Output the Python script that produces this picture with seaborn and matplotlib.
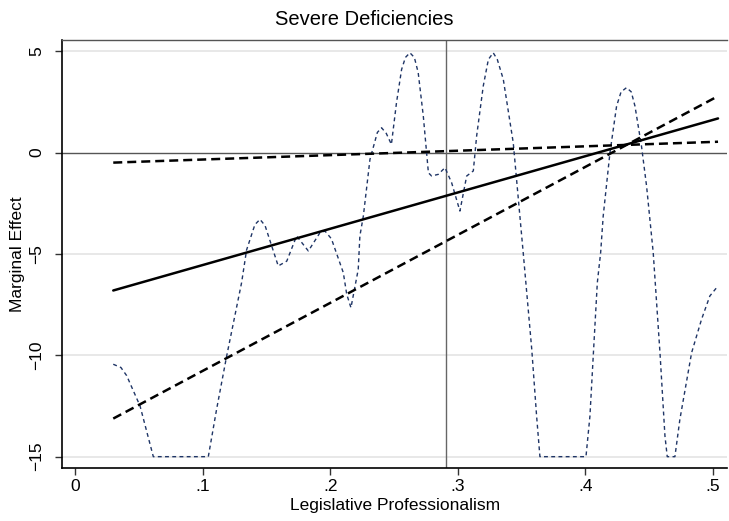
import matplotlib
matplotlib.use("Agg")
import matplotlib.pyplot as plt
import seaborn as sns
import pandas as pd

# Marginal effect of the interaction and its confidence bounds
prof_range = [0.030, 0.504]
marginal_effect = [-6.80, 1.69]
ci_lower = [-13.12, 2.79]
ci_upper = [-0.49, 0.54]

# Rescaled kernel density of legislative professionalism (floored at -15)
density_x = [0.030, 0.036, 0.0405, 0.051, 0.0614, 0.1045, 0.111, 0.1189, 0.1306, 0.1345,
             0.141, 0.145, 0.149, 0.1593, 0.166, 0.1737, 0.1829, 0.192, 0.196, 0.201,
             0.2103, 0.213, 0.2163, 0.222, 0.2233, 0.226, 0.2312, 0.237, 0.2403, 0.244,
             0.248, 0.252, 0.256, 0.259, 0.2625, 0.266, 0.269, 0.273, 0.277, 0.2795,
             0.2847, 0.290, 0.2952, 0.3017, 0.307, 0.3122, 0.3148, 0.320, 0.324, 0.3278,
             0.331, 0.3357, 0.3435, 0.3487, 0.3513, 0.358, 0.3618, 0.3644, 0.4005, 0.4036,
             0.4062, 0.4094, 0.412, 0.414, 0.4193, 0.4245, 0.428, 0.4323, 0.436, 0.4389,
             0.444, 0.448, 0.4532, 0.4585, 0.4624, 0.4642, 0.4702, 0.4741, 0.4833, 0.4911,
             0.4976, 0.5029]
density_y = [-10.44, -10.6, -11.0, -12.5, -15.0, -15.0, -12.66, -10.03, -6.41, -4.8,
             -3.55, -3.29, -3.6, -5.59, -5.35, -4.11, -4.85, -3.95, -3.87, -4.25,
             -5.92, -6.99, -7.65, -5.76, -4.11, -3.13, -0.33, 1.0, 1.23, 0.95,
             0.41, 2.47, 4.11, 4.7, 4.93, 4.7, 3.95, 1.81, -0.99, -1.15,
             -1.07, -0.74, -1.48, -2.88, -1.15, -0.9, 0.82, 3.29, 4.6, 4.93,
             4.6, 3.62, 0.49, -3.13, -4.93, -9.7, -12.99, -15.0, -15.0, -13.0,
             -10.03, -6.41, -4.93, -3.13, 0.0, 2.3, 3.0, 3.21, 3.0, 2.3,
             0.33, -1.65, -4.93, -9.87, -13.98, -15.0, -15.0, -13.16, -9.87, -8.22,
             -7.07, -6.66]

mean_prof = 0.2907

x_ticks = [0, 0.1, 0.2, 0.3, 0.4, 0.5]
x_tick_labels = ["0", ".1", ".2", ".3", ".4", ".5"]
y_ticks = [5, 0, -5, -10, -15]
y_tick_labels = ["5", "0", "\u22125", "\u221210", "\u221215"]

sns.set_theme(style="white")
plt.rcParams["font.family"] = ["Liberation Sans", "DejaVu Sans"]
plt.rcParams["text.color"] = "black"
plt.rcParams["axes.labelcolor"] = "black"
plt.rcParams["xtick.color"] = "black"
plt.rcParams["ytick.color"] = "black"

fig = plt.figure(figsize=(7.29, 5.21), dpi=100)
ax = fig.add_axes([0.0857, 0.1017, 0.9115, 0.8215])

# reference lines and grid
for yv in [5, -5, -10, -15]:
    ax.axhline(yv, color="#e2e2e2", lw=1.1, zorder=0)
ax.axhline(0, color="#555555", lw=1.0, zorder=1)
ax.axvline(mean_prof, color="#666666", lw=1.0, zorder=1)

dens = pd.DataFrame({"x": density_x, "y": density_y})
sns.lineplot(data=dens, x="x", y="y", ax=ax, color="#1f3566", lw=1.0,
             estimator=None, sort=False, zorder=2).lines[-1].set_dashes([2.8, 2.4])

me = pd.DataFrame({"x": prof_range, "me": marginal_effect,
                   "lo": ci_lower, "hi": ci_upper})
sns.lineplot(data=me, x="x", y="me", ax=ax, color="black", lw=1.8, zorder=3)
l1 = sns.lineplot(data=me, x="x", y="lo", ax=ax, color="black", lw=1.8, zorder=3).lines[-1]
l1.set_dashes([3.6, 2.0])
l2 = sns.lineplot(data=me, x="x", y="hi", ax=ax, color="black", lw=1.8, zorder=3).lines[-1]
l2.set_dashes([3.6, 2.0])

ax.set_xlim(-0.0098, 0.511)
ax.set_ylim(-15.56, 5.56)
ax.set_xticks(x_ticks)
ax.set_xticklabels(x_tick_labels, fontsize=12.5)
ax.set_yticks(y_ticks)
ax.set_yticklabels(y_tick_labels, fontsize=12.5, rotation=90, va="center")
ax.tick_params(axis="both", which="both", direction="out", length=5, width=1,
               color="#333333", labelcolor="black", bottom=True, left=True)
ax.tick_params(axis="y", pad=8)
ax.tick_params(axis="x", pad=3)
ax.set_xlabel("Legislative Professionalism", fontsize=12.5, labelpad=3, color="black")
ax.set_ylabel("Marginal Effect", fontsize=12.5, labelpad=3, color="black")

for side in ["left", "bottom"]:
    ax.spines[side].set_color("black")
    ax.spines[side].set_linewidth(1.2)
ax.spines["top"].set_color("#555555")
ax.spines["top"].set_linewidth(1.0)
ax.spines["right"].set_visible(False)

fig.text(0.5, 0.962, "Severe Deficiencies", ha="center", va="center",
         fontsize=14.5, color="black")

fig.savefig("out.png", dpi=100)
